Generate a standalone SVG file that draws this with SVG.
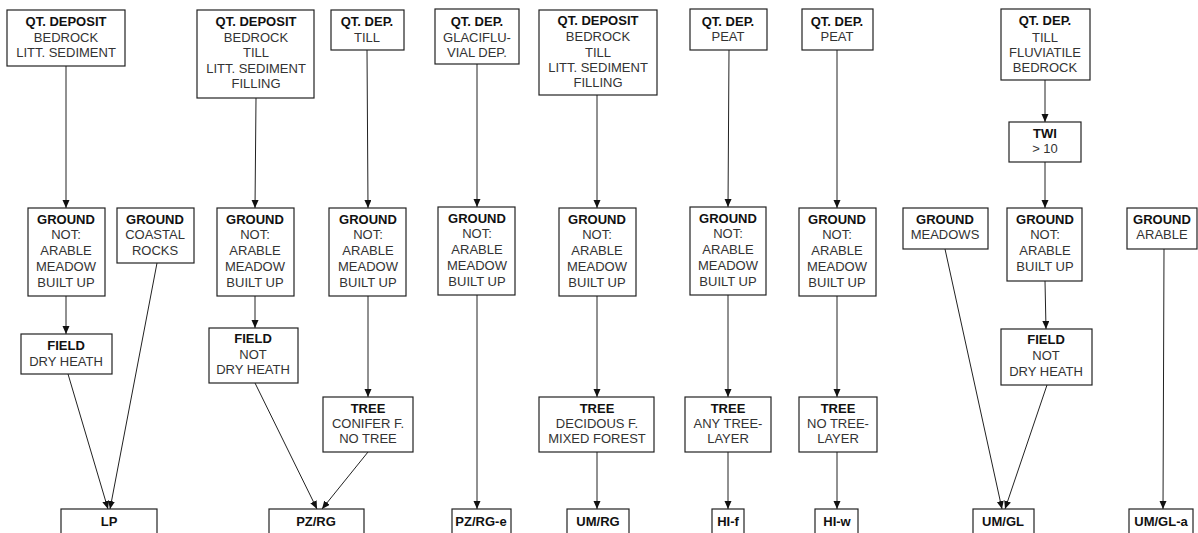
<svg xmlns="http://www.w3.org/2000/svg" width="1198" height="533" viewBox="0 0 1198 533">
<defs>
<marker id="ah" markerUnits="userSpaceOnUse" markerWidth="9" markerHeight="8" refX="8" refY="3.5" orient="auto">
<path d="M0,0 L8,3.5 L0,7 z" fill="#111"/>
</marker>
<style>
rect{fill:#fff;stroke:#222;stroke-width:1.2}
text{font-family:"Liberation Sans",Arial,sans-serif;font-size:13px;text-anchor:middle;fill:#333}
.b{font-weight:bold;fill:#111}
#connectors line{stroke:#222;stroke-width:1;marker-end:url(#ah)}
</style>
</defs>
<rect x="0" y="0" width="1198" height="533" style="fill:#fff;stroke:none"/>
<g id="connectors">
<line x1="66" y1="66" x2="66" y2="208"/>
<line x1="66" y1="296" x2="66" y2="334"/>
<line x1="68" y1="374" x2="108" y2="509"/>
<line x1="157" y1="263" x2="110" y2="509"/>
<line x1="256" y1="98" x2="255" y2="208"/>
<line x1="255" y1="296" x2="255" y2="328"/>
<line x1="255" y1="383" x2="317" y2="509"/>
<line x1="367" y1="50" x2="368" y2="208"/>
<line x1="368" y1="296" x2="368" y2="397"/>
<line x1="368" y1="452" x2="322" y2="509"/>
<line x1="477" y1="64" x2="477" y2="207"/>
<line x1="477" y1="295" x2="477" y2="509"/>
<line x1="597" y1="95" x2="597" y2="208"/>
<line x1="597" y1="296" x2="597" y2="397"/>
<line x1="597" y1="452" x2="597" y2="509"/>
<line x1="729" y1="50" x2="728" y2="207"/>
<line x1="728" y1="295" x2="728" y2="397"/>
<line x1="728" y1="452" x2="728" y2="509"/>
<line x1="837" y1="50" x2="837" y2="208"/>
<line x1="837" y1="296" x2="837" y2="397"/>
<line x1="837" y1="452" x2="837" y2="509"/>
<line x1="945" y1="249" x2="1002" y2="509"/>
<line x1="1045" y1="80" x2="1045" y2="122"/>
<line x1="1045" y1="162" x2="1045" y2="208"/>
<line x1="1045" y1="281" x2="1046" y2="329"/>
<line x1="1047" y1="385" x2="1005" y2="509"/>
<line x1="1164" y1="249" x2="1163" y2="509"/>
</g>
<g id="q1"><rect x="7" y="10" width="118" height="56"/><text x="66" y="26" class="b">QT. DEPOSIT</text><text x="66" y="42">BEDROCK</text><text x="66" y="57">LITT. SEDIMENT</text></g>
<g id="q2"><rect x="197" y="10" width="117" height="88"/><text x="256" y="26" class="b">QT. DEPOSIT</text><text x="256" y="42">BEDROCK</text><text x="256" y="57">TILL</text><text x="256" y="73">LITT. SEDIMENT</text><text x="256" y="88">FILLING</text></g>
<g id="q3"><rect x="331" y="10" width="73" height="40"/><text x="367" y="26" class="b">QT. DEP.</text><text x="367" y="42">TILL</text></g>
<g id="q4"><rect x="435" y="9" width="84" height="55"/><text x="477" y="26" class="b">QT. DEP.</text><text x="477" y="42">GLACIFLU-</text><text x="477" y="57">VIAL DEP.</text></g>
<g id="q5"><rect x="539" y="10" width="118" height="85"/><text x="598" y="25" class="b">QT. DEPOSIT</text><text x="598" y="41">BEDROCK</text><text x="598" y="57">TILL</text><text x="598" y="72">LITT. SEDIMENT</text><text x="598" y="87">FILLING</text></g>
<g id="q6"><rect x="690" y="9" width="77" height="41"/><text x="728" y="26" class="b">QT. DEP.</text><text x="728" y="41">PEAT</text></g>
<g id="q7"><rect x="802" y="9" width="71" height="41"/><text x="837" y="26" class="b">QT. DEP.</text><text x="837" y="41">PEAT</text></g>
<g id="q9"><rect x="1001" y="9" width="89" height="71"/><text x="1045" y="25" class="b">QT. DEP.</text><text x="1045" y="42">TILL</text><text x="1045" y="57">FLUVIATILE</text><text x="1045" y="72">BEDROCK</text></g>
<g id="twi"><rect x="1009" y="122" width="72" height="40"/><text x="1045" y="138" class="b">TWI</text><text x="1045" y="153">&gt; 10</text></g>
<g id="g1"><rect x="28" y="208" width="77" height="88"/><text x="66" y="224" class="b">GROUND</text><text x="66" y="239">NOT:</text><text x="66" y="255">ARABLE</text><text x="66" y="271">MEADOW</text><text x="66" y="287">BUILT UP</text></g>
<g id="gc"><rect x="117" y="208" width="77" height="55"/><text x="155" y="224" class="b">GROUND</text><text x="155" y="239">COASTAL</text><text x="155" y="255">ROCKS</text></g>
<g id="g2"><rect x="217" y="208" width="77" height="88"/><text x="255" y="224" class="b">GROUND</text><text x="255" y="239">NOT:</text><text x="255" y="255">ARABLE</text><text x="255" y="271">MEADOW</text><text x="255" y="287">BUILT UP</text></g>
<g id="g3"><rect x="329" y="208" width="77" height="88"/><text x="368" y="224" class="b">GROUND</text><text x="368" y="239">NOT:</text><text x="368" y="255">ARABLE</text><text x="368" y="271">MEADOW</text><text x="368" y="287">BUILT UP</text></g>
<g id="g4"><rect x="438" y="207" width="77" height="88"/><text x="477" y="223" class="b">GROUND</text><text x="477" y="238">NOT:</text><text x="477" y="254">ARABLE</text><text x="477" y="270">MEADOW</text><text x="477" y="286">BUILT UP</text></g>
<g id="g5"><rect x="559" y="208" width="77" height="88"/><text x="597" y="224" class="b">GROUND</text><text x="597" y="239">NOT:</text><text x="597" y="255">ARABLE</text><text x="597" y="271">MEADOW</text><text x="597" y="287">BUILT UP</text></g>
<g id="g6"><rect x="690" y="207" width="76" height="88"/><text x="728" y="223" class="b">GROUND</text><text x="728" y="238">NOT:</text><text x="728" y="254">ARABLE</text><text x="728" y="270">MEADOW</text><text x="728" y="286">BUILT UP</text></g>
<g id="g7"><rect x="799" y="208" width="77" height="88"/><text x="837" y="224" class="b">GROUND</text><text x="837" y="239">NOT:</text><text x="837" y="255">ARABLE</text><text x="837" y="271">MEADOW</text><text x="837" y="287">BUILT UP</text></g>
<g id="gm"><rect x="903" y="208" width="85" height="41"/><text x="945" y="224" class="b">GROUND</text><text x="945" y="239">MEADOWS</text></g>
<g id="g9"><rect x="1007" y="208" width="75" height="73"/><text x="1045" y="224" class="b">GROUND</text><text x="1045" y="239">NOT:</text><text x="1045" y="255">ARABLE</text><text x="1045" y="271">BUILT UP</text></g>
<g id="ga"><rect x="1127" y="208" width="70" height="41"/><text x="1162" y="224" class="b">GROUND</text><text x="1162" y="239">ARABLE</text></g>
<g id="f1"><rect x="21" y="334" width="91" height="40"/><text x="66" y="350" class="b">FIELD</text><text x="66" y="366">DRY HEATH</text></g>
<g id="f2"><rect x="209" y="328" width="89" height="55"/><text x="253" y="343" class="b">FIELD</text><text x="253" y="359">NOT</text><text x="253" y="374">DRY HEATH</text></g>
<g id="f9"><rect x="1001" y="329" width="91" height="56"/><text x="1046" y="344" class="b">FIELD</text><text x="1046" y="360">NOT</text><text x="1046" y="376">DRY HEATH</text></g>
<g id="t3"><rect x="323" y="397" width="90" height="55"/><text x="368" y="413" class="b">TREE</text><text x="368" y="428">CONIFER F.</text><text x="368" y="443">NO TREE</text></g>
<g id="t5"><rect x="539" y="397" width="115" height="55"/><text x="597" y="413" class="b">TREE</text><text x="597" y="428">DECIDOUS F.</text><text x="597" y="443">MIXED FOREST</text></g>
<g id="t6"><rect x="685" y="397" width="86" height="55"/><text x="728" y="413" class="b">TREE</text><text x="728" y="428">ANY TREE-</text><text x="728" y="443">LAYER</text></g>
<g id="t7"><rect x="799" y="397" width="78" height="55"/><text x="838" y="413" class="b">TREE</text><text x="838" y="428">NO TREE-</text><text x="838" y="443">LAYER</text></g>
<g id="lp"><rect x="61" y="509" width="96" height="30"/><text x="109" y="526" class="b">LP</text></g>
<g id="pzrg"><rect x="269" y="509" width="95" height="30"/><text x="316" y="526" class="b">PZ/RG</text></g>
<g id="pzrge"><rect x="452" y="509" width="59" height="30"/><text x="481" y="526" class="b">PZ/RG-e</text></g>
<g id="umrg"><rect x="567" y="509" width="62" height="30"/><text x="598" y="526" class="b">UM/RG</text></g>
<g id="hif"><rect x="712" y="509" width="32" height="30"/><text x="728" y="526" class="b">HI-f</text></g>
<g id="hiw"><rect x="815" y="509" width="43" height="30"/><text x="837" y="526" class="b">HI-w</text></g>
<g id="umgl"><rect x="973" y="509" width="61" height="30"/><text x="1003" y="526" class="b">UM/GL</text></g>
<g id="umgla"><rect x="1129" y="509" width="64" height="30"/><text x="1161" y="526" class="b">UM/GL-a</text></g>
</svg>
